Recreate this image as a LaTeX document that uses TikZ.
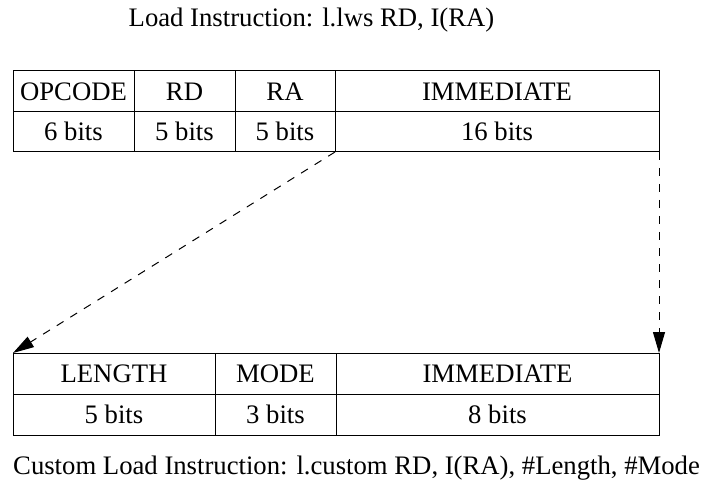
\documentclass[tikz,border=0pt]{standalone}
\usepackage{fontspec}
\setmainfont{Liberation Serif}
\usetikzlibrary{arrows.meta}
\begin{document}
\begin{tikzpicture}[x=1pt,y=-1pt,
  every node/.style={font=\fontsize{26.7}{32}\selectfont},
  cell/.style={draw,line width=1pt,inner sep=0pt,outer sep=0pt,text height=18pt,text depth=0pt},
  link/.style={dashed,dash pattern=on 8pt off 8pt,line width=1pt,-{Triangle[length=21pt,width=12pt]}}]
\useasboundingbox (0,0) rectangle (704,481);
% top table
\node[cell,minimum width=121pt,minimum height=41pt] (op) at (73.5,91.5) {OPCODE};
\node[cell,minimum width=101pt,minimum height=41pt] (rd) at (184.5,91.5) {RD};
\node[cell,minimum width=100pt,minimum height=41pt] (ra) at (285,91.5) {RA};
\node[cell,minimum width=324pt,minimum height=41pt] (imm) at (497,91.5) {IMMEDIATE};
\node[cell,minimum width=121pt,minimum height=40pt] (opb) at (73.5,132) {6 bits};
\node[cell,minimum width=101pt,minimum height=40pt] (rdb) at (184.5,132) {5 bits};
\node[cell,minimum width=100pt,minimum height=40pt] (rab) at (285,132) {5 bits};
\node[cell,minimum width=324pt,minimum height=40pt] (immb) at (497,132) {16 bits};
% bottom table
\node[cell,minimum width=202pt,minimum height=41pt] (len) at (114,373.5) {LENGTH};
\node[cell,minimum width=121pt,minimum height=41pt] (mode) at (275.5,373.5) {MODE};
\node[cell,minimum width=323pt,minimum height=41pt] (cimm) at (497.5,373.5) {IMMEDIATE};
\node[cell,minimum width=202pt,minimum height=41pt] (lenb) at (114,414.5) {5 bits};
\node[cell,minimum width=121pt,minimum height=41pt] (modeb) at (275.5,414.5) {3 bits};
\node[cell,minimum width=323pt,minimum height=41pt] (cimmb) at (497.5,414.5) {8 bits};
% captions
\node[anchor=base,inner sep=0pt] (title) at (311.5,27) {Load Instruction: l.lws RD, I(RA)};
\node[anchor=base west,inner sep=0pt] (caption) at (13,474) {Custom Load Instruction: l.custom RD, I(RA), \#Length, \#Mode};
% connectors
\draw[link] (immb.south west) -- (len.north west);
\draw[link] (immb.south east) -- (cimm.north east);
\end{tikzpicture}
\end{document}
